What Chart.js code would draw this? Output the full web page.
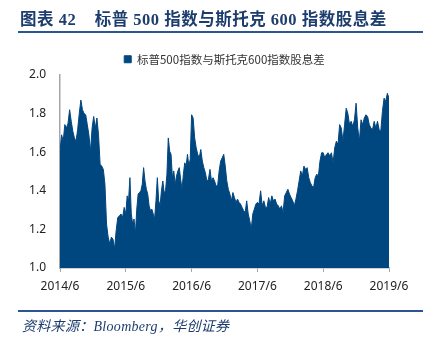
<!DOCTYPE html>
<html>
<head>
<meta charset="utf-8">
<script src="https://cdn.jsdelivr.net/npm/chart.js@4.4.1/dist/chart.umd.min.js"></script>
<style>
  html, body { margin: 0; padding: 0; background: #fff; }
  #wrap { position: relative; width: 428px; height: 343px; overflow: hidden; }
  #chart { position: absolute; left: 0; top: 0; }
  .title {
    position: absolute; left: 20px; top: 6px;
    font: bold 16.5px "Liberation Serif", "Noto Sans CJK SC", serif;
    color: #1d3d6e; white-space: pre; letter-spacing: 0.5px;
  }
  .rule { position: absolute; left: 18px; width: 405px; height: 2px; background: #2d5593; }
  .source {
    position: absolute; left: 22px; top: 315px;
    font: italic 14px "Liberation Serif", "Noto Sans CJK SC", serif;
    color: #1d3d6e; white-space: pre; letter-spacing: 0.3px;
  }
</style>
</head>
<body>
<div id="wrap">
  <canvas id="chart" width="428" height="343"></canvas>
  <div class="title">图表 42    标普 500 指数与斯托克 600 指数股息差</div>
  <div class="rule" style="top:31px"></div>
  <div class="rule" style="top:310px"></div>
  <div class="source">资料来源：Bloomberg，华创证券</div>
</div>
<script>
// ── Data ──────────────────────────────────────────────────────
const seriesName = '标普500指数与斯托克600指数股息差';
const xLabels = ['2014/6', '2015/6', '2016/6', '2017/6', '2018/6', '2019/6'];
const yTicks = [1.0, 1.2, 1.4, 1.6, 1.8, 2.0];

// yield spread, one array per year starting each June, evenly sampled inside the year
const spread2014 = [
  1.605, 1.69, 1.657, 1.743, 1.725, 1.75, 1.82, 1.76, 1.708, 1.674, 1.657, 1.717, 1.80, 1.87,
  1.82, 1.80, 1.794, 1.743, 1.69, 1.605, 1.725, 1.785, 1.725, 1.777, 1.69, 1.537, 1.528, 1.511,
  1.434, 1.228, 1.16, 1.125, 1.16, 1.15, 1.10, 1.194, 1.262, 1.27, 1.28, 1.262, 1.314
];
const spread2015 = [
  1.28, 1.374, 1.348, 1.468, 1.28, 1.228, 1.254, 1.177, 1.305, 1.383, 1.391, 1.40, 1.434, 1.52,
  1.451, 1.408, 1.383, 1.322, 1.297, 1.305, 1.28, 1.254, 1.348, 1.468, 1.348, 1.322, 1.40, 1.451,
  1.391, 1.40, 1.486, 1.674, 1.605, 1.589, 1.468, 1.503, 1.434, 1.477, 1.503, 1.52, 1.46, 1.408,
  1.486, 1.545, 1.528, 1.589, 1.528, 1.563
];
const spread2016 = [
  1.794, 1.777, 1.674, 1.622, 1.589, 1.571, 1.614, 1.554, 1.52, 1.494, 1.451, 1.46, 1.511, 1.451,
  1.468, 1.451, 1.425, 1.425, 1.503, 1.554, 1.571, 1.589, 1.528, 1.451, 1.408, 1.383, 1.348, 1.391,
  1.365, 1.34, 1.357, 1.34, 1.331, 1.314, 1.297, 1.288, 1.348, 1.28, 1.245, 1.203, 1.28, 1.305, 1.331
];
const spread2017 = [
  1.34, 1.331, 1.40, 1.322, 1.348, 1.314, 1.314, 1.365, 1.331, 1.374, 1.348, 1.357, 1.331, 1.322,
  1.305, 1.322, 1.288, 1.374, 1.391, 1.408, 1.383, 1.365, 1.348, 1.322, 1.357, 1.40, 1.451, 1.503,
  1.477, 1.528, 1.511, 1.52, 1.468, 1.442, 1.425, 1.417, 1.468, 1.486, 1.477, 1.554, 1.597
];
const spread2018 = [
  1.597, 1.571, 1.589, 1.597, 1.58, 1.597, 1.545, 1.622, 1.657, 1.64, 1.743, 1.725, 1.657, 1.743,
  1.828, 1.80, 1.743, 1.76, 1.734, 1.768, 1.854, 1.725, 1.657, 1.768, 1.743, 1.777, 1.794, 1.785,
  1.743, 1.725, 1.717, 1.76, 1.725, 1.76, 1.717, 1.708, 1.811, 1.88, 1.863, 1.905, 1.88
];

const years = [spread2014, spread2015, spread2016, spread2017, spread2018];
const span = xLabels.length - 1;
// x = years since 2014/6; last year stretches to close on 2019/6
const points = years.flatMap((arr, k) => {
  const denom = k === years.length - 1 ? arr.length - 1 : arr.length;
  return arr.map((v, i) => ({ x: k + i / denom, y: v }));
});

// ── Chart ─────────────────────────────────────────────────────
const FILL = '#00467f';
const AXIS = '#a6a6a6';
const tickFont = { family: 'Noto Sans', size: 12 };

new Chart(document.getElementById('chart'), {
  type: 'line',
  data: {
    datasets: [{
      label: seriesName,
      data: points,
      borderColor: FILL,
      backgroundColor: FILL,
      borderWidth: 1,
      pointRadius: 0,
      fill: 'start',
      tension: 0,
    }]
  },
  options: {
    responsive: false,
    animation: false,
    events: [],
    layout: { padding: { left: 0, right: 39, top: 53.5, bottom: 0 } },
    plugins: {
      tooltip: { enabled: false },
      legend: {
        position: 'top',
        fullSize: false,
        labels: {
          boxWidth: 7, boxHeight: 7, padding: 0,
          color: '#333',
          font: { family: 'Noto Sans CJK SC', size: 11.5 },
        }
      }
    },
    scales: {
      x: {
        type: 'linear',
        min: 0, max: span,
        afterFit: s => { s.height = 75; },
        afterBuildTicks: s => { s.ticks = xLabels.map((_, i) => ({ value: i })); },
        ticks: { color: '#222', font: tickFont, padding: 7, maxRotation: 0,
                 callback: v => xLabels[v] },
        grid: { display: true, drawOnChartArea: false, drawTicks: true, tickLength: 4, color: AXIS },
        border: { display: true, color: AXIS, width: 1.5 },
      },
      y: {
        min: 1.0, max: 2.0,
        afterFit: s => { s.width = 60; },
        afterBuildTicks: s => { s.ticks = yTicks.map(v => ({ value: v })); },
        ticks: { color: '#222', font: tickFont, padding: 14, callback: v => v.toFixed(1) },
        grid: { display: true, drawOnChartArea: false, drawTicks: false, color: AXIS },
        border: { display: true, color: AXIS, width: 1.5 },
      }
    }
  }
});
</script>
</body>
</html>
